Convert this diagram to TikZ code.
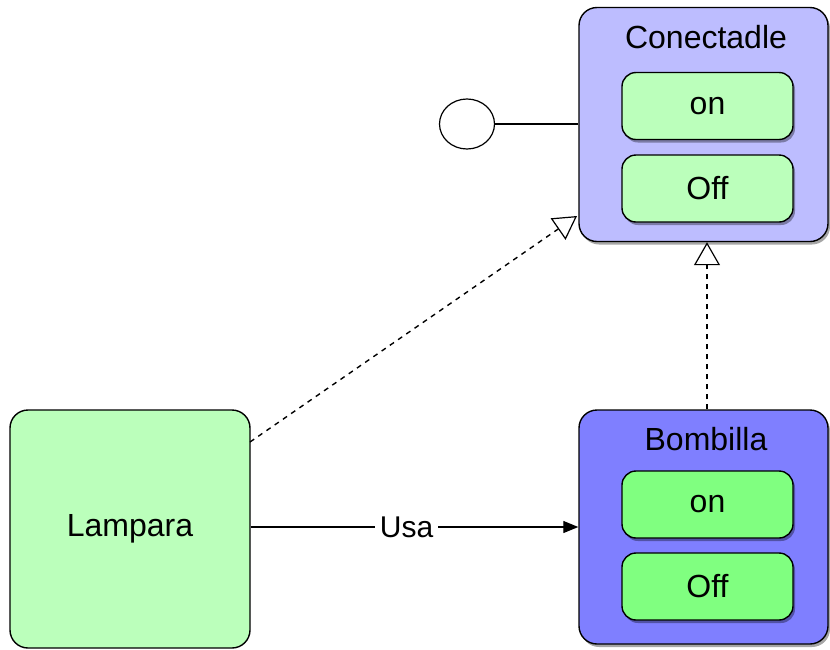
\documentclass[tikz,border=0pt]{standalone}
\usepackage{fontspec}
\setmainfont{Liberation Sans}
\usetikzlibrary{arrows.meta,shapes.geometric,shadows}
\definecolor{lav}{HTML}{BDBDFF}
\definecolor{blu}{HTML}{7F7FFF}
\definecolor{lgreen}{HTML}{BBFFBB}
\definecolor{mgreen}{HTML}{80FF80}
\begin{document}
\begin{tikzpicture}[x=1pt,y=-1pt,
  shd/.style={drop shadow={shadow xshift=2pt,shadow yshift=-3pt,fill=black,opacity=.35}},
  bigbox/.style={draw=black,line width=1.4pt,rounded corners=18pt,minimum width=249pt,minimum height=234pt,shd},
  txt/.style={font=\fontsize{32}{38}\selectfont},
  inbox/.style={draw=black,line width=1.4pt,rounded corners=14pt,minimum width=171pt,minimum height=67pt,shd,txt},
  ttl/.style={txt,inner sep=0pt},
  conn/.style={line width=1.2pt},
  realize/.style={conn,line width=1.4pt,dash pattern=on 5pt off 5pt,-{Triangle[open,length=23pt,width=26pt,line width=1.2pt]}},
  uses/.style={conn,-{Triangle[length=15pt,width=12pt]}}
]
\useasboundingbox (0,0) rectangle (830,649);
% boxes
\node[bigbox,fill=lav] (con) at (703.5,124.5) {};
\node[ttl] (contitle) at (706,37) {Conectadle};
\node[inbox,fill=lgreen] (conon) at (707.5,106) {on};
\node[inbox,fill=lgreen] (conoff) at (707.5,188.5) {Off};

\node[bigbox,fill=blu] (bom) at (703.5,527) {};
\node[ttl] (bomtitle) at (706,439) {Bombilla};
\node[inbox,fill=mgreen] (bomon) at (707.5,504.5) {on};
\node[inbox,fill=mgreen] (bomoff) at (707.5,586.5) {Off};

\node[draw=black,line width=1.4pt,rounded corners=18pt,fill=lgreen,minimum width=240pt,minimum height=238pt,txt] (lam) at (130,529) {Lampara};

% interface lollipop
\node[draw=black,line width=1.2pt,ellipse,minimum width=55pt,minimum height=50pt,inner sep=0pt,fill=white] (iface) at (467,124) {};
\draw[conn] (iface.east) -- (iface.east -| con.west);

% realizations
\coordinate (dstart) at (250,442);
\coordinate (dend) at (577,216);
\draw[realize] (dstart) -- (dend);
\draw[realize] (bom.north -| 707,0) -- (con.south -| 707,0);

% usa
\draw[uses] (lam.east |- 0,527) -- node[pos=0.476,fill=white,inner sep=5pt,font=\fontsize{30}{36}\selectfont] (usa) {Usa} (bom.west |- 0,527);
\end{tikzpicture}
\end{document}
